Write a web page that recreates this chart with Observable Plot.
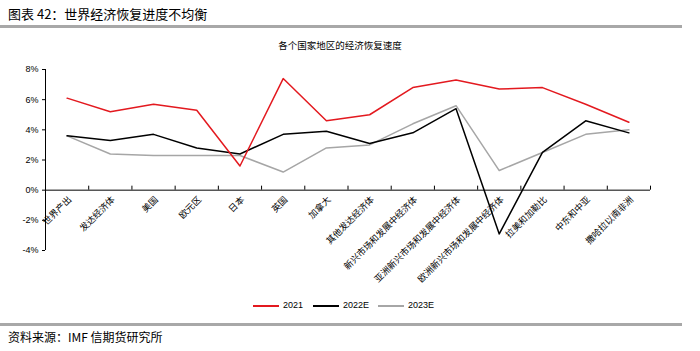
<!DOCTYPE html>
<html><head><meta charset="utf-8">
<script src="https://cdn.jsdelivr.net/npm/d3@7"></script>
<script src="https://cdn.jsdelivr.net/npm/@observablehq/plot@0.6"></script>
<style>
body{margin:0;width:700px;height:351px;position:relative;background:#fff;overflow:hidden;font-family:"Liberation Sans","Noto Sans CJK SC",sans-serif;color:#000}
.abs{position:absolute;white-space:nowrap}
#title{left:8px;top:5px;font-size:13px;font-family:"Noto Sans CJK SC",sans-serif;line-height:18px}
.bar{left:0;width:682px;height:3px;background:#a8a8a8}
#sub{left:0;width:680px;top:38px;text-align:center;font-size:9.5px;font-family:"Noto Sans CJK SC",sans-serif;line-height:14px}
#chart{left:0;top:60px}
#legend{left:0;top:298px;width:700px;height:14px;font-size:9px;line-height:14px}
.sw{position:absolute;top:7px;height:1.5px;width:26px}
.lt{position:absolute;top:0}
#cap{left:8px;top:329px;font-size:12px;font-family:"Noto Sans CJK SC",sans-serif;line-height:16px}
</style></head><body>
<div id="title" class="abs">图表 42：世界经济恢复进度不均衡</div>
<div class="abs bar" style="top:25px"></div>
<div id="sub" class="abs">各个国家地区的经济恢复速度</div>
<div id="chart" class="abs"></div>
<div id="legend" class="abs"></div>
<div class="abs bar" style="top:323px"></div>
<div id="cap" class="abs">资料来源：IMF 信期货研究所</div>
<script>
const categories = ["世界产出","发达经济体","美国","欧元区","日本","英国","加拿大","其他发达经济体","新兴市场和发展中经济体","亚洲新兴市场和发展中经济体","欧洲新兴市场和发展中经济体","拉美和加勒比","中东和中亚","撒哈拉以南非洲"];
const seriesNames = ["2021","2022E","2023E"];
const values2021 = [6.1,5.2,5.7,5.3,1.6,7.4,4.6,5.0,6.8,7.3,6.7,6.8,5.7,4.5];
const values2022 = [3.6,3.3,3.7,2.8,2.4,3.7,3.9,3.1,3.8,5.4,-2.9,2.5,4.6,3.8];
const values2023 = [3.6,2.4,2.3,2.3,2.3,1.2,2.8,3.0,4.4,5.6,1.3,2.5,3.7,4.0];
const yTicks = [-4,-2,0,2,4,6,8];

const colors = ["#e3191f","#000000","#a6a6a6"];
const seriesValues = [values2021, values2022, values2023];
const rows = [2,1,0].flatMap(j => seriesValues[j].map((v,i) => ({i, cat: categories[i], s: seriesNames[j], v})));
const boundaries = d3.range(1, categories.length + 1).map(k => k - 0.5);

const chart = Plot.plot({
  width: 700, height: 230,
  marginLeft: 45, marginRight: 50, marginTop: 9, marginBottom: 40,
  x: {type: "linear", domain: [-0.5, categories.length - 0.5], axis: null},
  y: {domain: [-4, 8], axis: null},
  color: {domain: seriesNames, range: colors},
  style: {fontFamily: '"Liberation Sans","Noto Sans CJK SC",sans-serif', fontSize: "9px", color: "#000", background: "transparent"},
  marks: [
    Plot.axisY({ticks: yTicks, tickFormat: d => d + "%", tickSize: 3, tickPadding: 4, fontSize: 9, label: null}),
    Plot.ruleX([-0.5], {y1: -4, y2: 8, stroke: "#000", strokeWidth: 1}),
    Plot.ruleY([0], {stroke: "#000", strokeWidth: 1}),
    Plot.ruleX(boundaries, {y1: 0, y2: 0, insetTop: -4, stroke: "#000"}),
    Plot.text(categories, {x: (d, i) => i, y: 0, text: d => d, rotate: -45, textAnchor: "end", dx: 3, dy: 8, fontSize: 9, fontFamily: '"Noto Sans CJK SC",sans-serif'}),
    Plot.line(rows, {x: "i", y: "v", z: "s", stroke: "s", strokeWidth: 1.5})
  ]
});
document.getElementById("chart").appendChild(chart);

const legend = document.getElementById("legend");
const lx = [253, 313, 378];
seriesNames.forEach((s, j) => {
  const sw = document.createElement("div");
  sw.className = "sw"; sw.style.left = lx[j] + "px"; sw.style.background = colors[j];
  legend.appendChild(sw);
  const t = document.createElement("div");
  t.className = "lt"; t.style.left = (lx[j] + 30) + "px"; t.textContent = s;
  legend.appendChild(t);
});
</script>
</body></html>
